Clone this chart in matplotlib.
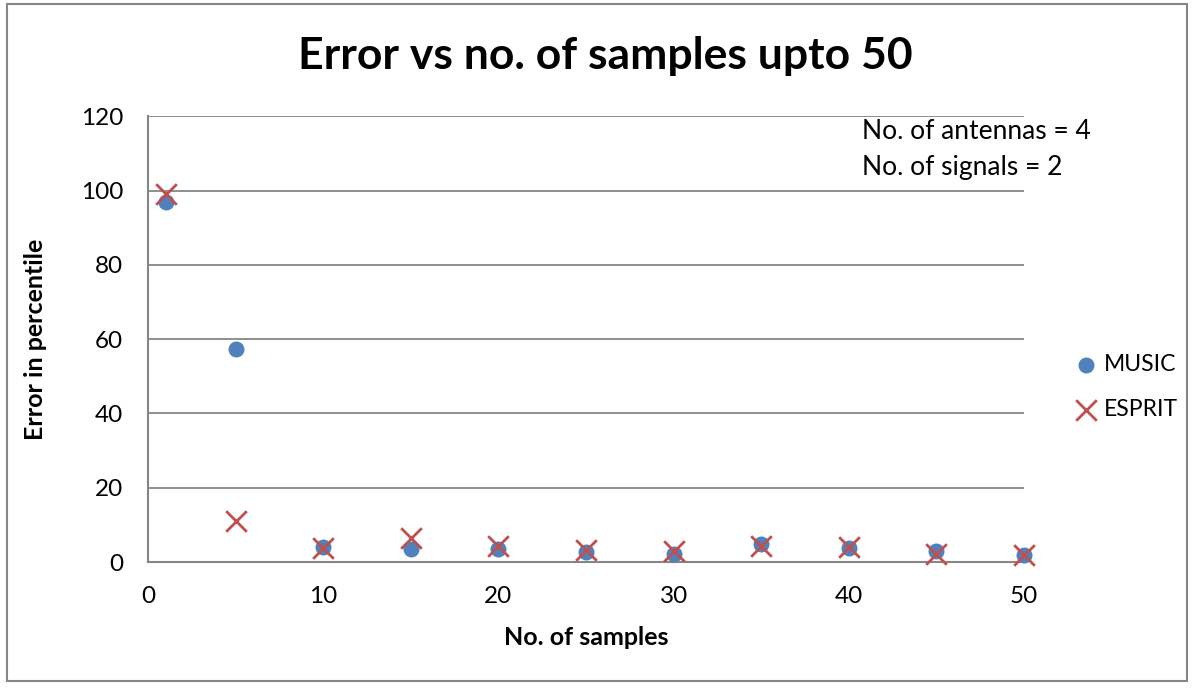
import matplotlib.pyplot as plt
from matplotlib.patches import Rectangle

plt.rcParams['font.family'] = ['Lato', 'DejaVu Sans']

# Data
samples = [1, 5, 10, 15, 20, 25, 30, 35, 40, 45, 50]
music = [96.8, 57.3, 4.1, 3.5, 3.5, 2.8, 2.3, 4.8, 3.9, 3.0, 1.9]
esprit = [99.0, 11.0, 3.8, 6.5, 4.4, 3.2, 3.0, 4.3, 4.1, 2.3, 1.9]

fig = plt.figure(figsize=(11.94, 6.88), dpi=100)
ax = fig.add_axes([0.124, 0.183, 0.7336, 0.6481])

ax.scatter(samples, music, s=110, color='#4F81BD', marker='o', label='MUSIC',
           zorder=3, clip_on=False)
ax.scatter(samples, esprit, s=220, color='#C0504D', marker='x', linewidths=2,
           label='ESPRIT', zorder=4, clip_on=False)

ax.set_xlim(0, 50)
ax.set_ylim(0, 120)
ax.set_xticks(range(0, 51, 10))
ax.set_yticks(range(0, 121, 20))
ax.yaxis.grid(True, color='#868686', linewidth=1.3)
ax.set_axisbelow(True)
for side in ['top', 'right']:
    ax.spines[side].set_visible(False)
ax.spines['left'].set_color('#868686')
ax.spines['bottom'].set_color('#868686')
ax.spines['left'].set_linewidth(1.5)
ax.spines['bottom'].set_linewidth(1.5)
ax.tick_params(length=0, labelsize=17.5)
ax.tick_params(axis='x', pad=17)
ax.tick_params(axis='y', pad=18)

ax.set_xlabel('No. of samples', fontsize=18, fontweight='bold', labelpad=14)
ax.set_ylabel('Error in percentile', fontsize=18, fontweight='bold', labelpad=24)
fig.text(0.507, 0.918, 'Error vs no. of samples upto 50', ha='center', va='center',
         fontsize=32, fontweight='bold')

fig.text(0.722, 0.809, 'No. of antennas = 4', fontsize=19, va='center')
fig.text(0.722, 0.757, 'No. of signals = 2', fontsize=19, va='center')

ax.legend(loc='center left', bbox_to_anchor=(1.045, 0.392), frameon=False, fontsize=16.5,
          handlelength=1.2, handletextpad=0.15, labelspacing=1.05, scatterpoints=1,
          borderaxespad=0)

fig.patches.append(Rectangle((0.006, 0.01), 0.988, 0.984, transform=fig.transFigure,
                             fill=False, edgecolor='#868686', linewidth=1.5))

plt.savefig('out.png')
